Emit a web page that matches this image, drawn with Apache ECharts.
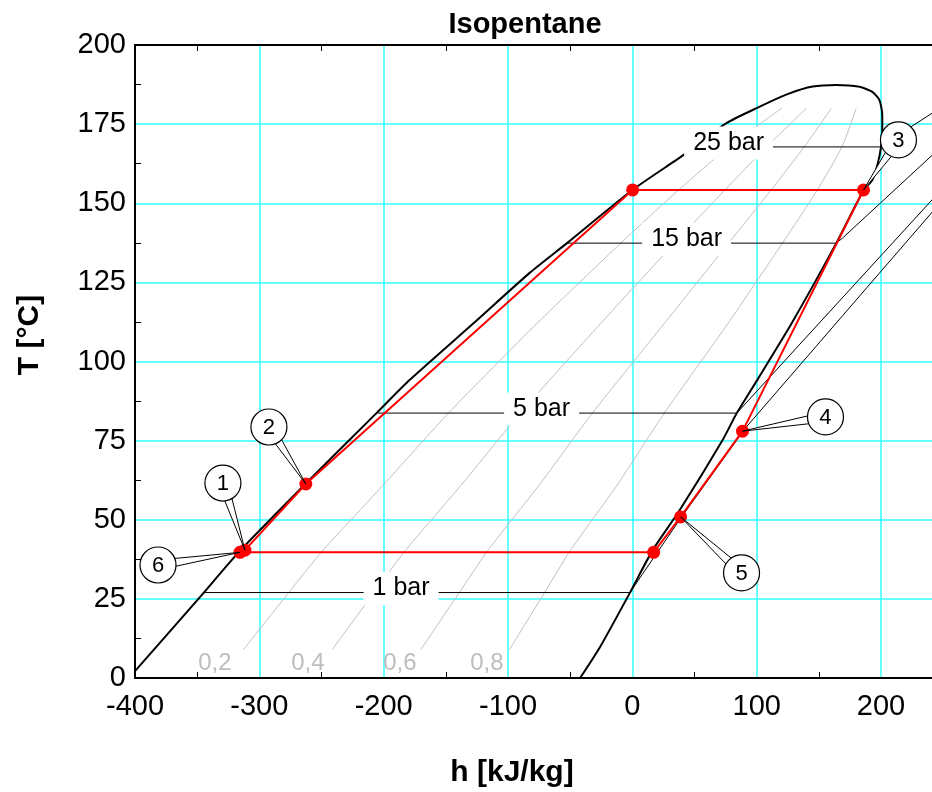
<!DOCTYPE html>
<html>
<head>
<meta charset="utf-8">
<script src="https://cdn.jsdelivr.net/npm/echarts/dist/echarts.min.js"></script>
<style>
html,body{margin:0;padding:0;background:#fff;}
#chart{width:932px;height:792px;}
</style>
</head>
<body>
<div id="chart"></div>
<script>
// ---- data (h in kJ/kg, T in °C) ----
const xTicks = [-400, -300, -200, -100, 0, 100, 200];
const yTicks = [0, 25, 50, 75, 100, 125, 150, 175, 200];

const satLiquid = [[-400,2.2],[-349,25],[-316,40],[-263,61.3],[-205,84],[-179,94.2],[-128,112],[-82.6,128],[-52.6,137.4],[0,154.2],[43.6,165.9],[75.6,175.3],[99.6,180],[126.4,184.7],[145,186.9],[163.9,187.4]];
const satVapor = [[163.9,187.4],[182.7,186.8],[193,185.2],[198.7,182.6],[200.9,178.4],[201,173.1],[200,167.9],[197.4,162.6],[193,157.3],[186,154.2],[164,137.4],[128,112],[100.5,94.2],[84,83.7],[72.6,75.2],[38,53],[16.3,40.4],[-2,26.9],[-26,9.8],[-42,0]];

const qualityT   = [9, 27, 40, 61, 84, 112, 137.4, 154.2, 168, 180];
const quality02  = [-312.7, -276.4, -249.6, -200.3, -147.2, -76.8, -9.3, 37.2, 78.2, 120];
const quality04  = [-241.4, -207.8, -183.2, -137.6, -89.4, -25.6, 34, 74.4, 108.4, 140];
const quality06  = [-170.1, -139.2, -116.8, -74.9, -31.6, 25.6, 77.4, 111.6, 138.6, 160];
const quality08  = [-98.8, -70.6, -50.4, -12.2, 26.2, 76.8, 120.7, 148.8, 168.8, 180];
const qualityLabels = ['0,2', '0,4', '0,6', '0,8'];
const qualityLabelPos = [[-335.7,4.7],[-261,4.7],[-187,4.7],[-117,4.7]];

const bar1  = [[-345,27],[-2,27],[38,50],[91,79],[242,147.6]];
const bar5  = [[-205,83.7],[84,83.7],[242,151.5]];
const bar15 = [[-52.6,137.4],[164,137.4],[169,139],[242,165.5]];
const bar25 = [[50,167.8],[199,167.8],[242,178.7]];
const isobarLabels = ['1 bar', '5 bar', '15 bar', '25 bar'];
const isobarLabelPos = [[-186,27],[-73,83.7],[43.6,137.4],[77.4,167.8]];

const cyclePath = [[-315.6,39.7],[-311.6,40.4],[-262.6,61.3],[0.2,154.2],[185.9,154.2],[88.6,78],[38.8,50.9],[17.1,39.7],[-315.6,39.7]];
const cyclePoints = [[-315.6,39.7],[-311.6,40.4],[-262.6,61.3],[0.2,154.2],[185.9,154.2],[88.6,78],[38.8,50.9],[17.1,39.7]];

const calloutLabels  = ['1', '2', '3', '4', '5', '6'];
const calloutTargets = [[-311.6,40.4],[-262.6,61.3],[185.9,154.2],[88.6,78],[38.8,50.9],[-315.6,39.7]];
const calloutCircles = [[-329.3,61.6],[-292.3,79.3],[214,170],[155.3,82.5],[87.8,33.2],[-381.5,35.7]];

// ---- chart ----
const FONT = "'Liberation Sans', Arial, sans-serif";
const chart = echarts.init(document.getElementById('chart'), null, {renderer: 'canvas'});

function zip(hs, ts){ return hs.map((h,i)=>[h, ts[i]]); }
const qualitySeries = [quality02, quality04, quality06, quality08].map(q => ({
  type: 'line', data: zip(q, qualityT), symbol: 'none', smooth: 0.2, z: 1,
  lineStyle: {color: '#c0c0c0', width: 1}, silent: true
}));
const isobarSeries = [bar1, bar5, bar15, bar25].map(b => ({
  type: 'line', data: b, symbol: 'none', z: 2,
  lineStyle: {color: '#000', width: 1}, silent: true
}));

const calloutData = calloutTargets.map((p,i)=>[p[0], p[1], calloutCircles[i][0], calloutCircles[i][1]]);

const option = {
  animation: false,
  backgroundColor: '#fff',
  grid: {left: 135, top: 45, width: 870.4, height: 633, containLabel: false, outerBoundsMode: 'none'},
  xAxis: [{
    type: 'value', min: -400, max: 300, interval: 100, position: 'bottom',
    axisLine: {show: true, onZero: false, lineStyle: {color: '#000', width: 2}},
    axisTick: {show: false, inside: true},
    minorTick: {show: true, splitNumber: 2, length: 6, lineStyle: {color: '#000', width: 1}},
    axisLabel: {color: '#000', fontSize: 29, fontFamily: FONT, margin: 14, showMaxLabel: false,
      formatter: v => (xTicks.indexOf(v) >= 0 ? String(v) : '')},
    splitLine: {show: true, lineStyle: {color: '#33ffff', width: 1.5}}
  }, {
    type: 'value', min: -400, max: 300, interval: 100, position: 'top',
    axisLine: {show: true, onZero: false, lineStyle: {color: '#000', width: 2}},
    axisTick: {show: false, inside: true},
    minorTick: {show: true, splitNumber: 2, length: 6, lineStyle: {color: '#000', width: 1}},
    axisLabel: {show: false}, splitLine: {show: false}
  }],
  yAxis: [{
    type: 'value', min: 0, max: 200, interval: 25,
    axisLine: {show: true, onZero: false, lineStyle: {color: '#000', width: 2}},
    axisTick: {show: false, inside: true},
    minorTick: {show: true, splitNumber: 2, length: 6, lineStyle: {color: '#000', width: 1}},
    axisLabel: {color: '#000', fontSize: 29, fontFamily: FONT, margin: 9,
      formatter: v => (yTicks.indexOf(v) >= 0 ? String(v) : '')},
    splitLine: {show: true, lineStyle: {color: '#33ffff', width: 1.5}}
  }],
  graphic: [
    {type: 'text', x: 525, y: 25, style: {text: 'Isopentane', font: "bold 29px " + FONT, fill: '#000', align: 'center', verticalAlign: 'middle'}},
    {type: 'text', x: 512, y: 773, style: {text: 'h [kJ/kg]', font: "bold 30px " + FONT, fill: '#000', align: 'center', verticalAlign: 'middle'}},
    {type: 'text', x: 30, y: 335, rotation: Math.PI/2, style: {text: 'T [°C]', font: "bold 30px " + FONT, fill: '#000', align: 'center', verticalAlign: 'middle'}}
  ],
  series: [
    ...qualitySeries,
    {
      type: 'scatter', data: qualityLabelPos, symbolSize: 1, z: 1,
      itemStyle: {color: 'rgba(0,0,0,0)', opacity: 1}, silent: true,
      label: {show: true, position: 'inside', formatter: p => qualityLabels[p.dataIndex],
        color: '#bdbdbd', fontSize: 24, fontFamily: FONT, textBorderWidth: 0}
    },
    ...isobarSeries,
    {
      type: 'line', data: satLiquid.concat(satVapor.slice(1)), symbol: 'none', smooth: 0.2, z: 3,
      lineStyle: {color: '#000', width: 2}, silent: true
    },
    {
      type: 'line', data: cyclePath, symbol: 'none', z: 4,
      lineStyle: {color: '#ff0000', width: 2}, silent: true
    },
    {
      type: 'scatter', data: cyclePoints, symbol: 'circle', symbolSize: 13, z: 5,
      itemStyle: {color: '#ff0000', opacity: 1}, silent: true
    },
    {
      type: 'custom', data: calloutData, z: 6, silent: true, clip: false,
      renderItem: function (params, api) {
        const p = api.coord([api.value(0), api.value(1)]);
        const c = api.coord([api.value(2), api.value(3)]);
        const dx = c[0]-p[0], dy = c[1]-p[1];
        const len = Math.sqrt(dx*dx+dy*dy) || 1;
        const w = 5;
        const nx = -dy/len*w, ny = dx/len*w;
        return {type: 'group', children: [
          {type: 'polygon', shape: {points: [p, [c[0]+nx, c[1]+ny], [c[0]-nx, c[1]-ny]]},
            style: {fill: '#fff', stroke: '#000', lineWidth: 1}},
          {type: 'circle', shape: {cx: c[0], cy: c[1], r: 18},
            style: {fill: '#fff', stroke: '#000', lineWidth: 1.2}},
          {type: 'text', style: {text: calloutLabels[params.dataIndex], x: c[0], y: c[1] + 1,
            align: 'center', verticalAlign: 'middle', font: '22px ' + FONT, fill: '#000'}}
        ]};
      }
    },
    {
      type: 'scatter', data: isobarLabelPos, symbolSize: 1, z: 7,
      itemStyle: {color: 'rgba(0,0,0,0)', opacity: 1}, silent: true,
      label: {show: true, position: 'inside', offset: [0, -4], formatter: p => isobarLabels[p.dataIndex],
        color: '#000', fontSize: 25, fontFamily: FONT, backgroundColor: '#fff', padding: [4, 9],
        textBorderWidth: 0}
    }
  ]
};
chart.setOption(option);
</script>
</body>
</html>
